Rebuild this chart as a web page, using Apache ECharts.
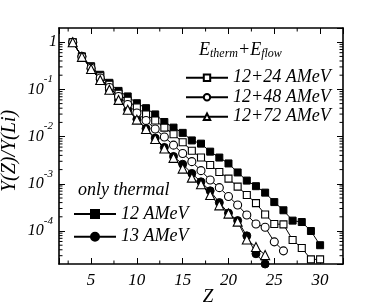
<!DOCTYPE html>
<html>
<head>
<meta charset="utf-8">
<script src="https://cdn.jsdelivr.net/npm/echarts@6/dist/echarts.min.js"></script>
<style>html,body{margin:0;padding:0;background:#fff;}#c{width:367px;height:303px;}</style>
</head>
<body>
<div id="c"></div>
<script>
// ---- data ----
const Z30 = [3,4,5,6,7,8,9,10,11,12,13,14,15,16,17,18,19,20,21,22,23,24,25,26,27,28,29,30];
const Z26 = [3,4,5,6,7,8,9,10,11,12,13,14,15,16,17,18,19,20,21,22,23,24,25,26];
const Z24 = [3,4,5,6,7,8,9,10,11,12,13,14,15,16,17,18,19,20,21,22,23,24];

const thermal12 = [1,0.50,0.31,0.204,0.138,0.093,0.071,0.051,0.040,0.0295,0.0204,0.0155,0.012,0.0083,0.0071,0.0048,0.0036,0.0027,0.00174,0.00117,0.00089,0.00065,0.00041,0.000275,0.000166,0.000155,0.0001,0.00005];
const thermal13 = [1,0.50,0.275,0.162,0.098,0.060,0.037,0.0234,0.0148,0.0093,0.0059,0.0038,0.0026,0.00166,0.0011,0.00071,0.0004,0.00024,0.000166,0.000079,0.000033,0.00002];
const flow24 = [1,0.49,0.295,0.19,0.126,0.081,0.0575,0.0417,0.0295,0.0219,0.0155,0.0112,0.0076,0.0050,0.0036,0.0025,0.00178,0.00129,0.00087,0.00058,0.00039,0.000224,0.000141,0.000138,0.0000646,0.0000437,0.0000251,0.0000251];
const flow48 = [1,0.49,0.28,0.174,0.11,0.071,0.048,0.0316,0.0219,0.0145,0.0098,0.0066,0.0044,0.00295,0.0019,0.0012,0.00083,0.00054,0.000355,0.000219,0.000141,0.00012,0.0000589,0.000038];
const flow72 = [1,0.49,0.27,0.158,0.098,0.060,0.037,0.0229,0.0145,0.0089,0.0056,0.00355,0.0021,0.00135,0.00098,0.00058,0.00035,0.000234,0.000158,0.000066,0.0000457,0.0000309];

const seriesNames = ['12+24 AMeV','12+48 AMeV','12+72 AMeV','12 AMeV','13 AMeV'];
const X_MIN = 1.5, X_MAX = 32.5;
const Y_MIN = 2e-5, Y_MAX = 2;
const xMinorTicks = [2.5,7.5,12.5,17.5,22.5,27.5];
const yMinorTicks = [
  3e-5,4e-5,5e-5,6e-5,7e-5,8e-5,9e-5,
  2e-4,3e-4,4e-4,5e-4,6e-4,7e-4,8e-4,9e-4,
  2e-3,3e-3,4e-3,5e-3,6e-3,7e-3,8e-3,9e-3,
  2e-2,3e-2,4e-2,5e-2,6e-2,7e-2,8e-2,9e-2,
  0.2,0.3,0.4,0.5,0.6,0.7,0.8,0.9
];

// ---- chart ----
const FONT = 'Liberation Serif';
const pair = (xs, ys) => xs.map((x, i) => [x, ys[i]]);
const chart = echarts.init(document.getElementById('c'), null, {renderer: 'canvas'});

function yLabel(v) {
  const l = Math.log10(v), e = Math.round(l);
  if (Math.abs(l - e) > 1e-6) return '';
  if (e === 0) return '{b|1}';
  return '{b|10}{s|' + e + '}';
}
const yRich = {
  b: {fontSize: 16, fontStyle: 'italic', fontFamily: FONT, color: '#000'},
  s: {fontSize: 11, fontStyle: 'italic', fontFamily: FONT, color: '#000', padding: [0, 4, 20, 0]}
};
const tickStyle = {show: true, inside: true, length: 6, lineStyle: {color: '#000', width: 1}};
const lineAxis = {show: true, lineStyle: {color: '#000', width: 1.6}};

function openSeries(name, data, symbol, size) {
  return {
    name, type: 'line', data, symbol, symbolSize: size,
    itemStyle: {color: '#fff', borderColor: '#000', borderWidth: 1.1},
    lineStyle: {color: '#000', width: 1},
    z: 4
  };
}
function filledSeries(name, data, symbol, size) {
  return {
    name, type: 'line', data, symbol, symbolSize: size,
    itemStyle: {color: '#000', borderColor: '#000', borderWidth: 1},
    lineStyle: {color: '#000', width: 1},
    z: 3
  };
}

const option = {
  animation: false,
  backgroundColor: '#fff',
  grid: {left: 59, right: 24, top: 28, bottom: 39, outerBoundsMode: 'none'},
  title: [
    {
      text: '{e|E}{s|therm}{e|+E}{s|flow}',
      left: 199, top: 40, padding: 0,
      textStyle: {
        fontWeight: 'normal',
        rich: {
          e: {fontSize: 18, fontStyle: 'italic', fontWeight: 'normal', fontFamily: FONT, color: '#000'},
          s: {fontSize: 12, fontStyle: 'italic', fontWeight: 'normal', fontFamily: FONT, color: '#000', padding: [8, 0, 0, 0]}
        }
      }
    },
    {
      text: 'only thermal',
      left: 78, top: 181, padding: 0,
      textStyle: {fontSize: 18, fontStyle: 'italic', fontWeight: 'normal', fontFamily: FONT, color: '#000'}
    }
  ],
  legend: [
    {
      data: seriesNames.slice(0, 3),
      orient: 'vertical', left: 185, top: 68.7, padding: 0,
      itemWidth: 42, itemHeight: 8, itemGap: 1.5, selectedMode: false,
      textStyle: {fontSize: 18, fontStyle: 'italic', fontFamily: FONT, color: '#000', lineHeight: 18}
    },
    {
      data: seriesNames.slice(3),
      orient: 'vertical', left: 73, top: 205, padding: 0,
      itemWidth: 42, itemHeight: 10, itemGap: 4.7, selectedMode: false,
      textStyle: {fontSize: 18, fontStyle: 'italic', fontFamily: FONT, color: '#000', lineHeight: 18}
    }
  ],
  xAxis: [
    {
      type: 'value', min: X_MIN, max: X_MAX, position: 'bottom',
      name: 'Z', nameLocation: 'middle', nameGap: 23, nameMoveOverlap: false,
      nameTextStyle: {fontSize: 19, fontStyle: 'italic', fontFamily: FONT, color: '#000', padding: [0, 0, 0, 14]},
      axisLine: lineAxis, axisTick: tickStyle,
      axisLabel: {
        margin: 8, fontSize: 17, fontStyle: 'italic', fontFamily: FONT, color: '#000',
        formatter: v => (Math.abs(v % 5) < 1e-9 ? String(v) : '')
      },
      splitLine: {show: false}
    },
    {
      type: 'value', min: X_MIN, max: X_MAX, position: 'top',
      axisLine: lineAxis, axisTick: tickStyle, axisLabel: {show: false}, splitLine: {show: false}
    }
  ],
  yAxis: [
    {
      type: 'log', logBase: 10, min: Y_MIN, max: Y_MAX, position: 'left',
      name: 'Y(Z)/Y(Li)', nameLocation: 'middle', nameGap: 39, nameRotate: 90, nameMoveOverlap: false,
      nameTextStyle: {fontSize: 20, fontStyle: 'italic', fontFamily: FONT, color: '#000', padding: [0, 10, 0, 0]},
      axisLine: lineAxis, axisTick: tickStyle,
      axisLabel: {margin: 2, formatter: yLabel, rich: yRich, showMinLabel: false, showMaxLabel: false},
      splitLine: {show: false}
    },
    {
      type: 'log', logBase: 10, min: Y_MIN, max: Y_MAX, position: 'right',
      axisLine: lineAxis, axisTick: tickStyle, axisLabel: {show: false}, splitLine: {show: false}
    }
  ],
  series: [
    filledSeries('12 AMeV', pair(Z30, thermal12), 'rect', 7),
    filledSeries('13 AMeV', pair(Z24, thermal13), 'circle', 8),
    openSeries('12+24 AMeV', pair(Z30, flow24), 'rect', 7),
    openSeries('12+48 AMeV', pair(Z26, flow48), 'circle', 8),
    openSeries('12+72 AMeV', pair(Z24, flow72), 'triangle', 9),
    {
      type: 'custom', silent: true, z: 2, clip: false,
      data: yMinorTicks.map(v => [X_MIN, v]),
      renderItem: function (params, api) {
        const v = api.value(1);
        const a = api.coord([X_MIN, v]);
        const b = api.coord([X_MAX, v]);
        const st = {stroke: '#000', lineWidth: 1};
        return {type: 'group', children: [
          {type: 'line', shape: {x1: a[0], y1: a[1], x2: a[0] + 3.5, y2: a[1]}, style: st},
          {type: 'line', shape: {x1: b[0], y1: b[1], x2: b[0] - 3.5, y2: b[1]}, style: st}
        ]};
      }
    },
    {
      type: 'custom', silent: true, z: 2, clip: false,
      data: xMinorTicks.map(v => [v, Y_MIN]),
      renderItem: function (params, api) {
        const v = api.value(0);
        const a = api.coord([v, Y_MIN]);
        const b = api.coord([v, Y_MAX]);
        const st = {stroke: '#000', lineWidth: 1};
        return {type: 'group', children: [
          {type: 'line', shape: {x1: a[0], y1: a[1], x2: a[0], y2: a[1] - 3.5}, style: st},
          {type: 'line', shape: {x1: b[0], y1: b[1], x2: b[0], y2: b[1] + 3.5}, style: st}
        ]};
      }
    }
  ]
};
chart.setOption(option);
</script>
</body>
</html>
